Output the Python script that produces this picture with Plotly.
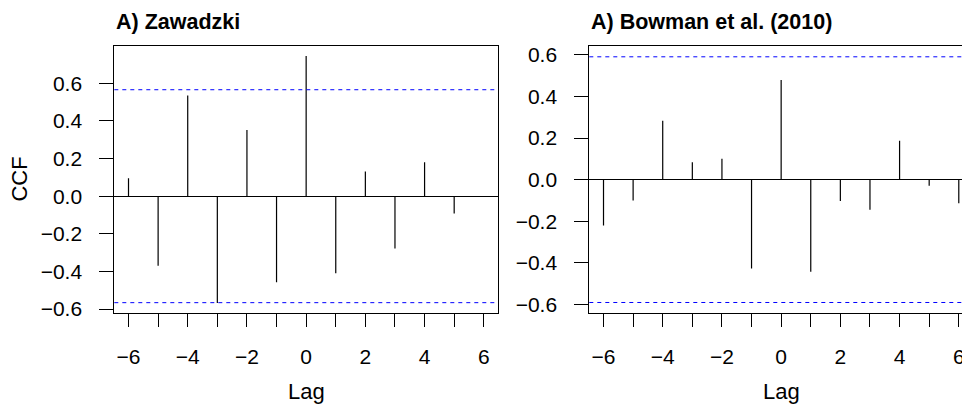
import plotly.graph_objects as go

lags = [-6, -5, -4, -3, -2, -1, 0, 1, 2, 3, 4, 5, 6]
zawadzki_ccf = [0.095, -0.370, 0.536, -0.568, 0.352, -0.458, 0.746, -0.409, 0.131, -0.278, 0.180, -0.092, 0.0]
bowman_ccf = [-0.221, -0.100, 0.283, 0.084, 0.100, -0.427, 0.480, -0.443, -0.103, -0.145, 0.187, -0.029, -0.113]
zawadzki_ci = 0.566
bowman_ci = 0.591
titles = ["A) Zawadzki", "A) Bowman et al. (2010)"]
x_tick_vals = lags
x_tick_text = [str(v).replace("-", "\u2212") if v % 2 == 0 else "" for v in lags]
y_tick_vals = [-0.6, -0.4, -0.2, 0.0, 0.2, 0.4, 0.6]

# page body margin is removed by the post script, so figure pixels = page pixels
W, H = 962, 405
FONT = "Liberation Sans, Arial, Helvetica, sans-serif"
TICK_SIZE = 21


def px(x):
    return x / W


def py(y):
    return 1 - y / H


def segs(xs, ys):
    sx, sy = [], []
    for x, y in zip(xs, ys):
        sx += [x, x, None]
        sy += [0, y, None]
    return sx, sy


fig = go.Figure()
for i, vals in enumerate([zawadzki_ccf, bowman_ccf]):
    sx, sy = segs(lags, vals)
    ax = "" if i == 0 else "2"
    fig.add_trace(go.Scatter(x=sx, y=sy, mode="lines", line=dict(color="black", width=1.2),
                             xaxis="x" + ax, yaxis="y" + ax, showlegend=False, hoverinfo="skip"))

ydom = [py(313.3), py(46)]
common_x = dict(tickvals=x_tick_vals, ticktext=x_tick_text, ticks="outside", ticklen=13,
                tickcolor="black", tickwidth=1, showgrid=False, zeroline=False,
                showline=True, linecolor="black", linewidth=1, mirror=True,
                ticklabeloverflow="allow",
                tickfont=dict(size=TICK_SIZE, color="black", family=FONT), ticklabelstandoff=11)
common_y = dict(tickvals=y_tick_vals, tickformat=".1f", ticks="outside", ticklen=14,
                tickcolor="black", tickwidth=1, showgrid=False, zeroline=True,
                zerolinecolor="black", zerolinewidth=1, showline=True, linecolor="black",
                linewidth=1, tickfont=dict(size=TICK_SIZE, color="black", family=FONT),
                ticklabelstandoff=13)

px_per_lag = (498 - 114.3) / 12.96
fig.update_layout(
    width=W, height=H, margin=dict(l=0, r=0, t=0, b=0, autoexpand=False),
    paper_bgcolor="white", plot_bgcolor="white",
    xaxis=dict(domain=[px(114.3), px(498)], range=[-6.48, 6.48], anchor="y", **common_x),
    yaxis=dict(domain=ydom, range=[-0.6225, 0.7985], anchor="x", mirror=True, **common_y),
    xaxis2=dict(domain=[px(589.3), 1.0], range=[-6.48, -6.48 + (962 - 589.3) / px_per_lag],
                anchor="y2", **common_x),
    yaxis2=dict(domain=ydom, range=[-0.643, 0.643], anchor="x2", mirror=False, **common_y),
)

shapes = []
for ax, ci in [("", zawadzki_ci), ("2", bowman_ci)]:
    for s in (1, -1):
        shapes.append(dict(type="line", xref="x" + ax + " domain", yref="y" + ax,
                           x0=0, x1=1, y0=s * ci, y1=s * ci,
                           line=dict(color="#0000FF", width=1, dash="4px,4px")))
fig.update_layout(shapes=shapes)

ann = []
for i, t in enumerate(titles):
    ax = "" if i == 0 else "2"
    ann.append(dict(text="<b>" + t + "</b>", xref="x" + ax + " domain", x=0, xanchor="left",
                    yref="paper", y=py(21.5), yanchor="middle", showarrow=False,
                    font=dict(size=21.5, color="black", family=FONT)))
    ann.append(dict(text="Lag", xref="x" + ax, x=0, xanchor="center", yref="paper",
                    y=py(391), yanchor="middle", showarrow=False,
                    font=dict(size=22, color="black", family=FONT)))
ann.append(dict(text="CCF", xref="paper", x=px(20), xanchor="center", yref="paper",
                y=py(179.6), yanchor="middle", textangle=-90, showarrow=False,
                font=dict(size=22, color="black", family=FONT)))
fig.update_layout(annotations=ann)

fig.write_html(
    "out.html",
    config={"displayModeBar": False, "staticPlot": True},
    post_script=(
        "document.documentElement.style.margin='0';document.body.style.margin='0';"
        "document.documentElement.style.overflow='hidden';document.body.style.overflow='hidden';"
    ),
)
